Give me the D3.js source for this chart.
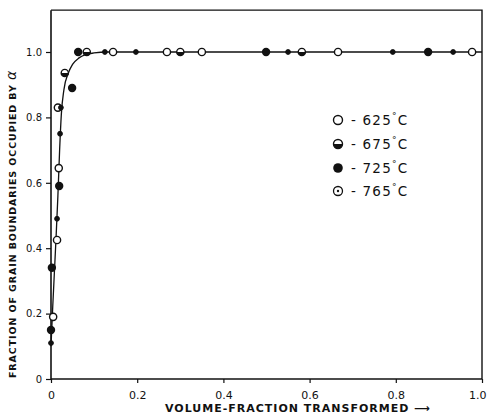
<!DOCTYPE html>
<html>
<head>
<meta charset="utf-8">
<script src="https://cdn.jsdelivr.net/npm/d3@7"></script>
<style>
  html, body { margin: 0; padding: 0; background: #fff; }
  svg { display: block; }
  text { font-family: "DejaVu Sans", sans-serif; fill: #111; }
</style>
</head>
<body>
<div id="chart"></div>
<script>
// Fraction of grain boundaries occupied by alpha vs. volume fraction transformed
const xTicks = [0, 0.2, 0.4, 0.6, 0.8, 1.0];
const yTicks = [0, 0.2, 0.4, 0.6, 0.8, 1.0];
const xTickLabels = ["0", "0.2", "0.4", "0.6", "0.8", "1.0"];
const yTickLabels = ["0", "0.2", "0.4", "0.6", "0.8", "1.0"];

// Fitted curve through all temperatures
const curveX = [0, 0.004, 0.008, 0.012, 0.016, 0.02, 0.024, 0.03, 0.04, 0.05, 0.065, 0.08, 0.1, 0.13, 0.2, 1.0];
const curveY = [0.10, 0.22, 0.33, 0.44, 0.56, 0.70, 0.81, 0.885, 0.935, 0.962, 0.982, 0.992, 0.997, 1.0, 1.0, 1.0];

// Measured points, one pair of arrays per temperature
const x625 = [0.005, 0.014, 0.018, 0.016, 0.144, 0.269, 0.35, 0.666, 0.977];
const y625 = [0.19, 0.425, 0.645, 0.83, 1.0, 1.0, 1.0, 1.0, 1.0];
const x675 = [0.032, 0.083, 0.30, 0.582];
const y675 = [0.936, 1.0, 1.0, 1.0];
const x725 = [0.0, 0.002, 0.019, 0.049, 0.063, 0.499, 0.875];
const y725 = [0.15, 0.34, 0.59, 0.89, 1.0, 1.0, 1.0];
const x765 = [0.0, 0.014, 0.021, 0.023, 0.125, 0.197, 0.55, 0.793, 0.933];
const y765 = [0.11, 0.49, 0.75, 0.83, 1.0, 1.0, 1.0, 1.0, 1.0];

const seriesNames = ["625", "675", "725", "765"];
const seriesX = [x625, x675, x725, x765];
const seriesY = [y625, y675, y725, y765];

const W = 489, H = 420;
const svg = d3.select("#chart").append("svg").attr("width", W).attr("height", H);

const x = d3.scaleLinear().domain([0, 1]).range([51, 482]);
const y = d3.scaleLinear().domain([0, 1]).range([379, 52]);
const yTop = 1.128;

// Frame (top and right edges)
svg.append("path")
  .attr("d", `M${x(0)},${y(yTop)} L${x(1)},${y(yTop)} L${x(1)},${y(0)}`)
  .attr("fill", "none").attr("stroke", "#111").attr("stroke-width", 1.4);

// Axes
const xAxis = d3.axisBottom(x).tickValues(xTicks).tickSize(4).tickPadding(8)
  .tickFormat((d, i) => xTickLabels[i]);
const gx = svg.append("g").attr("transform", `translate(0,${y(0)})`).call(xAxis);
gx.select(".domain").attr("d", `M${x(0)},0H${x(1)}`).attr("stroke", "#111").attr("stroke-width", 1.6);
gx.selectAll(".tick line").attr("stroke", "#111").attr("stroke-width", 1.2);
gx.selectAll(".tick text").attr("font-size", 11).attr("font-family", "DejaVu Sans, sans-serif").attr("fill", "#111");
// keep the last label inside the page
gx.selectAll(".tick text").filter(d => d === 1).attr("text-anchor", "end").attr("x", 4);

const yAxis = d3.axisLeft(y).tickValues(yTicks).tickSize(5).tickPadding(4)
  .tickFormat((d, i) => yTickLabels[i]);
const gy = svg.append("g").attr("transform", `translate(${x(0)},0)`).call(yAxis);
gy.select(".domain").attr("d", `M0,${y(0)}V${y(yTop)}`).attr("stroke", "#111").attr("stroke-width", 1.6);
gy.selectAll(".tick line").attr("stroke", "#111").attr("stroke-width", 1.2);
gy.selectAll(".tick text").attr("font-size", 10).attr("font-family", "DejaVu Sans, sans-serif").attr("fill", "#111");

// Axis titles
svg.append("text")
  .attr("x", 298).attr("y", 412)
  .attr("text-anchor", "middle")
  .attr("font-size", 11).attr("font-weight", "bold").attr("letter-spacing", 1)
  .text("VOLUME-FRACTION TRANSFORMED \u27F6");

const yTitle = svg.append("text")
  .attr("transform", "translate(16,224) rotate(-90)")
  .attr("text-anchor", "middle")
  .attr("font-size", 9.5).attr("font-weight", "bold").attr("letter-spacing", 0.9);
yTitle.append("tspan").text("FRACTION  OF  GRAIN  BOUNDARIES  OCCUPIED  BY  ");
yTitle.append("tspan").attr("font-size", 14).attr("font-style", "italic").attr("font-weight", "normal").text("\u03B1");

// Fitted curve
const curveData = curveX.map((v, i) => [v, curveY[i]]);
svg.append("path")
  .datum(curveData)
  .attr("d", d3.line().x(d => x(d[0])).y(d => y(d[1])).curve(d3.curveMonotoneX))
  .attr("fill", "none").attr("stroke", "#111").attr("stroke-width", 1.3);

// Marker drawing per temperature
function drawMarker(g, name, cx, cy, big) {
  const r = big ? 4.5 : 3.6;
  if (name === "625") {
    g.append("circle").attr("cx", cx).attr("cy", cy).attr("r", r)
      .attr("fill", "#fff").attr("stroke", "#111").attr("stroke-width", 1.4);
  } else if (name === "675") {
    g.append("circle").attr("cx", cx).attr("cy", cy).attr("r", r)
      .attr("fill", "#fff").attr("stroke", "#111").attr("stroke-width", 1.4);
    g.append("path")
      .attr("d", `M${cx - r},${cy} A${r},${r} 0 0 0 ${cx + r},${cy} Z`)
      .attr("fill", "#111");
  } else if (name === "725") {
    g.append("circle").attr("cx", cx).attr("cy", cy).attr("r", big ? 4.8 : 4.2)
      .attr("fill", "#111");
  } else {
    const rr = big ? 4.5 : 2.4;
    g.append("circle").attr("cx", cx).attr("cy", cy).attr("r", rr)
      .attr("fill", big ? "#fff" : "#111").attr("stroke", "#111").attr("stroke-width", big ? 1.3 : 1);
    g.append("circle").attr("cx", cx).attr("cy", cy).attr("r", 1.2).attr("fill", "#111");
  }
}

const gPts = svg.append("g");
seriesNames.forEach((name, s) => {
  seriesX[s].forEach((v, i) => drawMarker(gPts, name, x(v), y(seriesY[s][i]), false));
});

// Legend
const legendY = [120, 144, 168, 191];
const legend = svg.append("g");
seriesNames.forEach((name, i) => {
  drawMarker(legend, name, 338, legendY[i], true);
  const t = legend.append("text")
    .attr("x", 351).attr("y", legendY[i] + 5)
    .attr("font-size", 13.5).attr("letter-spacing", 1.2);
  t.append("tspan").text("- " + name);
  t.append("tspan").attr("dy", -6).attr("font-size", 9).text("\u00B0");
  t.append("tspan").attr("dy", 6).attr("font-size", 13.5).text("C");
});
</script>
</body>
</html>
